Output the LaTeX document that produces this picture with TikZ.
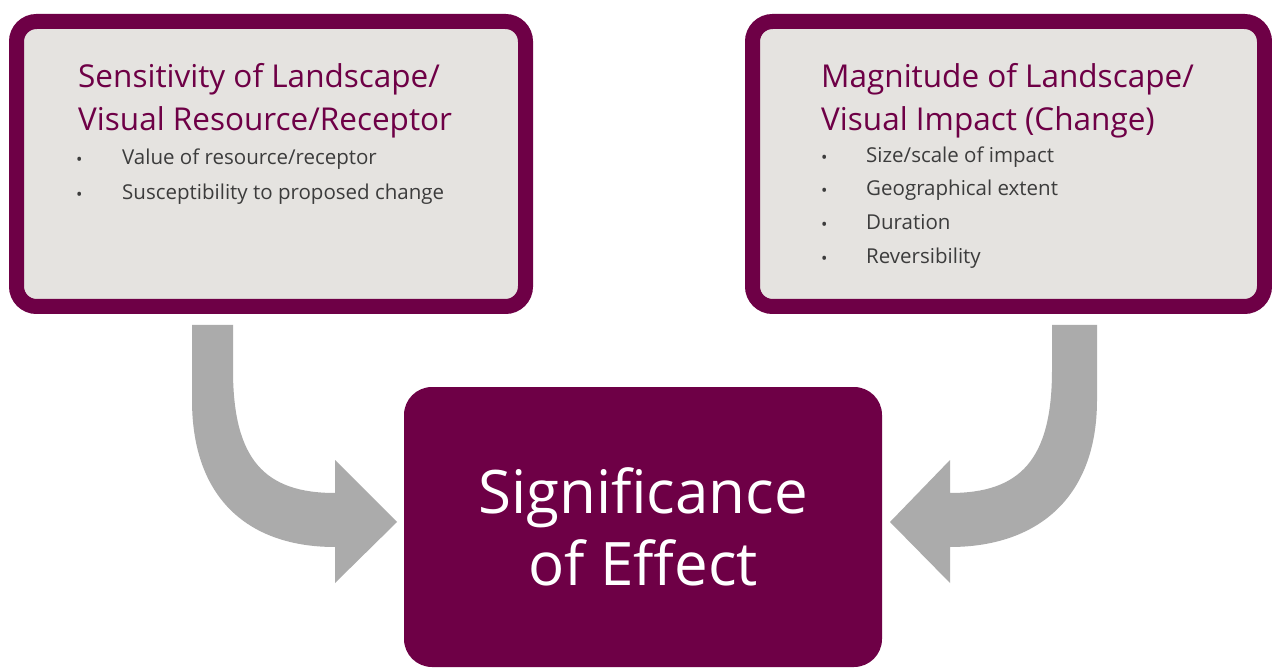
\documentclass[tikz,border=0pt]{standalone}
\usepackage{fontspec}
\setmainfont{Open Sans}
\definecolor{plum}{RGB}{110,0,70}
\definecolor{panel}{RGB}{229,227,224}
\definecolor{arrowgray}{RGB}{171,171,171}
\definecolor{txt}{RGB}{60,60,60}
\tikzset{
  panelbox/.style={draw=plum, line width=15pt, fill=panel, rounded corners=20pt, inner sep=0pt, outer sep=0pt, anchor=north west},
  resultbox/.style={fill=plum, rounded corners=28pt, inner sep=0pt, outer sep=0pt, anchor=north west},
  titletext/.style={anchor=base west, inner sep=0pt, text=plum, font=\fontsize{31.5}{36}\selectfont},
  itemtext/.style={anchor=base west, inner sep=0pt, text=txt, font=\fontsize{20.5}{25}\selectfont},
  bullettext/.style={anchor=base west, inner sep=0pt, text=txt, font=\fontsize{17}{19}\selectfont},
  bigtext/.style={anchor=base, inner sep=0pt, text=white, font=\fontsize{60}{70}\selectfont},
  bigarrow/.style={fill=arrowgray}
}
\begin{document}
\begin{tikzpicture}[x=1pt,y=-1pt]
\useasboundingbox (0,0) rectangle (1272,668);
\fill[white] (0,0) rectangle (1272,668);

% boxes (path drawn at centre of 15pt border)
\node[panelbox, minimum width=509pt, minimum height=285pt] (left) at (16.5,21.5) {};
\node[panelbox, minimum width=512pt, minimum height=285pt] (right) at (752.5,21.5) {};
\node[resultbox, minimum width=478pt, minimum height=280pt] (result) at (404,387) {};

% left texts
\node[titletext] (lt1) at (78,87.5) {Sensitivity of Landscape/};
\node[titletext] (lt2) at (78,130.5) {Visual Resource/Receptor};
\node[bullettext] (lb1) at (76,166) {\textbullet};
\node[itemtext] (li1) at (122,165) {Value of resource/receptor};
\node[bullettext] (lb2) at (76,201) {\textbullet};
\node[itemtext] (li2) at (122,200) {Susceptibility to proposed change};

% right texts
\node[titletext] (rt1) at (821,87.5) {Magnitude of Landscape/};
\node[titletext] (rt2) at (821,130.5) {Visual Impact (Change)};
\node[bullettext] (rb1) at (821,164) {\textbullet};
\node[itemtext] (ri1) at (866,163) {Size/scale of impact};
\node[bullettext] (rb2) at (821,197) {\textbullet};
\node[itemtext] (ri2) at (866,196) {Geographical extent};
\node[bullettext] (rb3) at (821,231) {\textbullet};
\node[itemtext] (ri3) at (866,230) {Duration};
\node[bullettext] (rb4) at (821,265) {\textbullet};
\node[itemtext] (ri4) at (866,264) {Reversibility};

% center text
\node[bigtext] (c1) at (643,513) {Significance};
\node[bigtext] (c2) at (643,585) {of Effect};

% arrows
\fill[bigarrow] (192,325) -- (233,325) -- (233,370)
  .. controls (233,460) and (265,493) .. (335,493)
  -- (335,460) -- (397,522) -- (335,583) -- (335,547)
  .. controls (250,547) and (192,500) .. (192,400) -- cycle;
\fill[bigarrow] (1097,325) -- (1052,325) -- (1052,370)
  .. controls (1052,460) and (1020,493) .. (950,493)
  -- (950,460) -- (890,522) -- (950,583) -- (950,547)
  .. controls (1035,547) and (1097,500) .. (1097,400) -- cycle;
\end{tikzpicture}
\end{document}
